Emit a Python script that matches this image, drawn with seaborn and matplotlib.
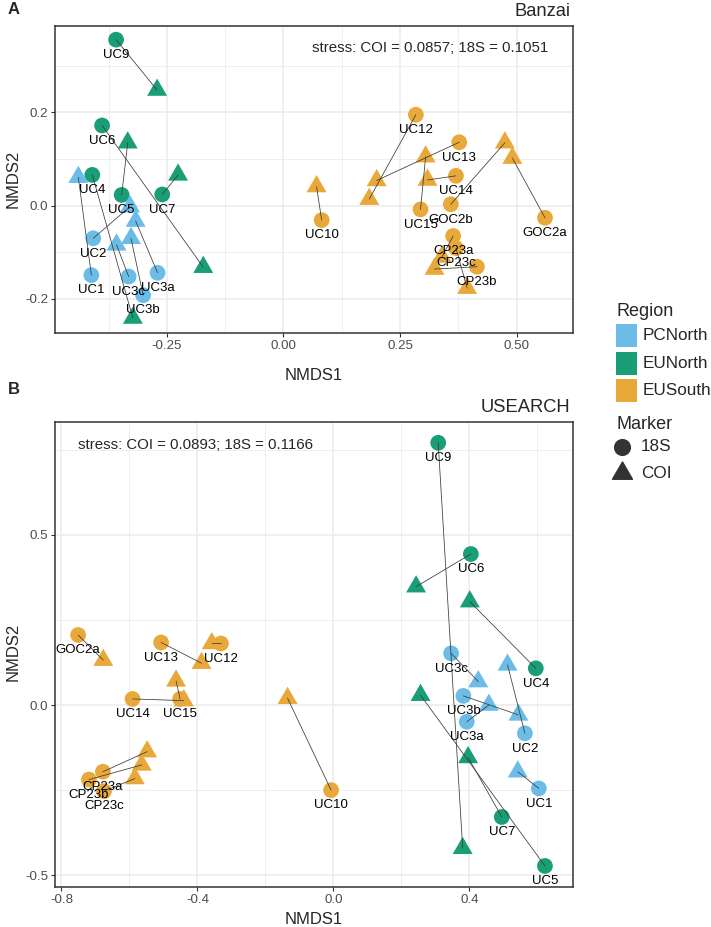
import numpy as np
import pandas as pd
import seaborn as sns
import matplotlib.pyplot as plt
from matplotlib.path import Path
from matplotlib.patches import Rectangle
from matplotlib.lines import Line2D

# ---- data ----
regions = ['PCNorth', 'EUNorth', 'EUSouth']
colors = ['#6BBDE8', '#1A9E77', '#E9A93A']

# panel A (Banzai)
samples_a = ['UC1', 'UC2', 'UC3a', 'UC3b', 'UC3c', 'UC4', 'UC5', 'UC6', 'UC7', 'UC9',
             'UC10', 'UC12', 'UC13', 'UC14', 'UC15', 'GOC2a', 'GOC2b', 'CP23a', 'CP23b', 'CP23c']
region_a = ['PCNorth'] * 5 + ['EUNorth'] * 5 + ['EUSouth'] * 10
x18_a = [-0.412, -0.408, -0.270, -0.301, -0.332, -0.410, -0.347, -0.389, -0.260, -0.359,
         0.082, 0.284, 0.377, 0.370, 0.294, 0.561, 0.359, 0.364, 0.415, 0.370]
y18_a = [-0.149, -0.070, -0.144, -0.192, -0.152, 0.066, 0.023, 0.172, 0.024, 0.356,
         -0.031, 0.195, 0.136, 0.064, -0.008, -0.026, 0.003, -0.065, -0.131, -0.091]
xcoi_a = [-0.440, -0.329, -0.317, -0.327, -0.358, -0.323, -0.334, -0.172, -0.226, -0.271,
          0.071, 0.184, 0.200, 0.309, 0.305, 0.491, 0.475, 0.340, 0.324, 0.394]
ycoi_a = [0.061, -0.002, -0.033, -0.070, -0.084, -0.241, 0.135, -0.132, 0.066, 0.248,
          0.041, 0.014, 0.054, 0.055, 0.105, 0.102, 0.135, -0.110, -0.136, -0.177]

# panel B (USEARCH)
samples_b = ['UC1', 'UC2', 'UC3a', 'UC3b', 'UC3c', 'UC4', 'UC5', 'UC6', 'UC7', 'UC9',
             'UC10', 'UC12', 'UC13', 'UC14', 'UC15', 'GOC2a', 'CP23a', 'CP23b', 'CP23c']
region_b = ['PCNorth'] * 5 + ['EUNorth'] * 5 + ['EUSouth'] * 9
x18_b = [0.604, 0.563, 0.392, 0.382, 0.346, 0.595, 0.622, 0.404, 0.495, 0.308,
         -0.007, -0.331, -0.507, -0.591, -0.451, -0.751, -0.678, -0.719, -0.675]
y18_b = [-0.245, -0.083, -0.049, 0.027, 0.152, 0.108, -0.473, 0.444, -0.329, 0.771,
         -0.250, 0.181, 0.184, 0.018, 0.018, 0.206, -0.196, -0.219, -0.253]
xcoi_b = [0.542, 0.512, 0.457, 0.544, 0.426, 0.401, 0.256, 0.243, 0.396, 0.380,
          -0.135, -0.358, -0.388, -0.440, -0.463, -0.677, -0.548, -0.564, -0.584]
ycoi_b = [-0.196, 0.118, 0.000, -0.029, 0.069, 0.304, 0.029, 0.348, -0.154, -0.421,
          0.020, 0.181, 0.123, 0.013, 0.071, 0.132, -0.137, -0.176, -0.216]

stress_a = 'stress: COI = 0.0857; 18S = 0.1051'
stress_b = 'stress: COI = 0.0893; 18S = 0.1166'

xticks_a = [-0.25, 0.0, 0.25, 0.50]
xticklabels_a = ['-0.25', '0.00', '0.25', '0.50']
yticks_a = [-0.2, 0.0, 0.2]
yticklabels_a = ['-0.2', '0.0', '0.2']
xticks_b = [-0.8, -0.4, 0.0, 0.4]
xticklabels_b = ['-0.8', '-0.4', '0.0', '0.4']
yticks_b = [-0.5, 0.0, 0.5]
yticklabels_b = ['-0.5', '0.0', '0.5']

# ---- style ----
sns.set_style('white')
plt.rcParams['font.family'] = ['Liberation Sans', 'DejaVu Sans']

W, H = 711, 927
fig = plt.figure(figsize=(W / 100, H / 100), dpi=100)


def fx(px):
    return px / W


def fy(py):
    return 1 - py / H


# R's pch 17 triangle, centred on its centroid
tri = Path([(0, 1.555), (-1.347, -0.778), (1.347, -0.778), (0, 1.555)],
           [Path.MOVETO, Path.LINETO, Path.LINETO, Path.CLOSEPOLY])
pal = dict(zip(regions, colors))


def long_df(samples, region, x18, y18, xcoi, ycoi):
    d1 = pd.DataFrame({'sample': samples, 'Region': region, 'NMDS1': x18, 'NMDS2': y18, 'Marker': '18S'})
    d2 = pd.DataFrame({'sample': samples, 'Region': region, 'NMDS1': xcoi, 'NMDS2': ycoi, 'Marker': 'COI'})
    return pd.concat([d1, d2], ignore_index=True)


def draw_panel(ax, samples, region, x18, y18, xcoi, ycoi, xlim, ylim,
               xt, xtl, yt, ytl):
    df = long_df(samples, region, x18, y18, xcoi, ycoi)
    sns.scatterplot(data=df, x='NMDS1', y='NMDS2', hue='Region', hue_order=regions,
                    palette=pal, style='Marker', markers={'18S': 'o', 'COI': tri},
                    size='Marker', sizes={'18S': 128, 'COI': 275},
                    linewidth=0, legend=False, ax=ax, zorder=2)
    for i in range(len(samples)):
        ax.plot([x18[i], xcoi[i]], [y18[i], ycoi[i]], color='#3a3a3a', lw=0.55, zorder=3)
        ax.annotate(samples[i], (x18[i], y18[i]), xytext=(0, -11), textcoords='offset points',
                    ha='center', va='center', fontsize=9.5, color='black', zorder=4)
    ax.set_xlim(xlim)
    ax.set_ylim(ylim)
    ax.set_xticks(xt)
    ax.set_xticklabels(xtl)
    ax.set_yticks(yt)
    ax.set_yticklabels(ytl)
    xt = np.array(xt)
    yt = np.array(yt)
    ax.set_xticks(np.append(xt - (xt[1] - xt[0]) / 2, xt[-1] + (xt[1] - xt[0]) / 2), minor=True)
    ax.set_yticks(np.append(yt - (yt[1] - yt[0]) / 2, yt[-1] + (yt[1] - yt[0]) / 2), minor=True)
    ax.set_xlim(xlim)
    ax.set_ylim(ylim)
    ax.grid(which='major', color='#EBEBEB', lw=1.1)
    ax.grid(which='minor', color='#EBEBEB', lw=0.55)
    ax.set_axisbelow(True)
    ax.tick_params(which='major', length=2.75, width=0.8, color='#333333',
                   labelsize=9.6, labelcolor='#4D4D4D', pad=2.2, bottom=True, left=True)
    ax.tick_params(which='minor', length=0)
    for s in ax.spines.values():
        s.set_color('#333333')
        s.set_linewidth(1.1)
    ax.set_xlabel('')
    ax.set_ylabel('')


left, right = 55, 572.5
ax_a = fig.add_axes([fx(left), fy(332.7), (right - left) / W, (332.7 - 25.7) / H])
draw_panel(ax_a, samples_a, region_a, x18_a, y18_a, xcoi_a, ycoi_a,
           (-0.490, 0.620), (-0.2725, 0.386), xticks_a, xticklabels_a, yticks_a, yticklabels_a)

ax_b = fig.add_axes([fx(left), fy(886.7), (right - left) / W, (886.7 - 421.7) / H])
draw_panel(ax_b, samples_b, region_b, x18_b, y18_b, xcoi_b, ycoi_b,
           (-0.819, 0.703), (-0.534, 0.833), xticks_b, xticklabels_b, yticks_b, yticklabels_b)

# stress annotations
fig.text(fx(430), fy(47.7), stress_a, ha='center', va='center', fontsize=10.8)
fig.text(fx(195), fy(445), stress_b, ha='center', va='center', fontsize=10.8)

# titles and tags
fig.text(fx(570), fy(12), 'Banzai', ha='right', va='center', fontsize=13.2)
fig.text(fx(570), fy(407.5), 'USEARCH', ha='right', va='center', fontsize=13.2)
fig.text(fx(13.7), fy(9.5), 'A', ha='center', va='center', fontsize=12, fontweight='bold')
fig.text(fx(13.7), fy(390), 'B', ha='center', va='center', fontsize=12, fontweight='bold')

# axis titles
fig.text(fx(313.5), fy(376), 'NMDS1', ha='center', va='center', fontsize=12)
fig.text(fx(313.5), fy(919), 'NMDS1', ha='center', va='center', fontsize=12)
fig.text(fx(12.8), fy(179), 'NMDS2', ha='center', va='center', fontsize=12, rotation=90)
fig.text(fx(12.8), fy(652), 'NMDS2', ha='center', va='center', fontsize=12, rotation=90)

# legend: Region
fig.text(fx(616), fy(312), 'Region', ha='left', va='center', fontsize=13)
for i, (r, c) in enumerate(zip(regions, colors)):
    yc = 335.5 + i * 27.5
    fig.add_artist(Rectangle((fx(616), fy(yc + 11.5)), 21 / W, 23 / H,
                             transform=fig.transFigure, facecolor=c, edgecolor='none'))
    fig.text(fx(643), fy(yc), r, ha='left', va='center', fontsize=12.3)

# legend: Marker
fig.text(fx(616), fy(424), 'Marker', ha='left', va='center', fontsize=13)
fig.add_artist(Line2D([fx(622)], [fy(447)], marker='o', markersize=np.sqrt(128), color='#333333',
                      linestyle='none', transform=fig.transFigure))
fig.add_artist(Line2D([fx(622)], [fy(473)], marker=tri, markersize=np.sqrt(275), color='#333333',
                      linestyle='none', transform=fig.transFigure))
fig.text(fx(641), fy(447), '18S', ha='left', va='center', fontsize=12.3)
fig.text(fx(641), fy(473), 'COI', ha='left', va='center', fontsize=12.3)

fig.savefig('out.png', dpi=100)
